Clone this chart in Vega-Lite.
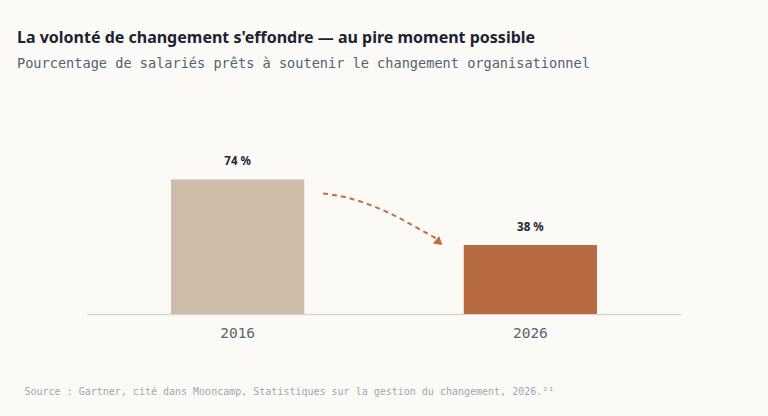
{
  "$schema": "https://vega.github.io/schema/vega-lite/v6.json",
  "width": 594,
  "height": 200,
  "autosize": "none",
  "padding": {"left": 87, "top": 114, "right": 87, "bottom": 102},
  "background": "#fbfaf6",
  "title": {
    "text": "La volonté de changement s'effondre — au pire moment possible",
    "subtitle": "Pourcentage de salariés prêts à soutenir le changement organisationnel",
    "anchor": "start",
    "frame": "group",
    "dx": -70,
    "offset": 43,
    "font": "Noto Sans",
    "fontSize": 16,
    "fontWeight": "bold",
    "color": "#1b2333",
    "subtitleFont": "DejaVu Sans Mono",
    "subtitleFontSize": 13.6,
    "subtitleColor": "#59606b",
    "subtitlePadding": 11
  },
  "config": {"view": {"stroke": null}},
  "layer": [
    {
      "data": {
        "values": [
          {"year": "2016", "value": 74, "label": "74 %"},
          {"year": "2026", "value": 38, "label": "38 %"}
        ]
      },
      "encoding": {
        "x": {
          "field": "year",
          "type": "nominal",
          "scale": {"paddingInner": 0.545, "paddingOuter": 0.287},
          "axis": {
            "labelAngle": 0,
            "labelFont": "DejaVu Sans Mono",
            "labelFontSize": 14.5,
            "labelColor": "#5d646e",
            "labelPadding": 12,
            "ticks": false,
            "domainColor": "#dcd7ce",
            "domainWidth": 1.5,
            "title": "Source : Gartner, cité dans Mooncamp, Statistiques sur la gestion du changement, 2026.²¹",
            "titleFont": "DejaVu Sans Mono",
            "titleFontSize": 10,
            "titleFontWeight": "normal",
            "titleColor": "#a3a6aa",
            "titleAnchor": "start",
            "titleAlign": "left",
            "titleBaseline": "alphabetic",
            "titleX": -63,
            "titleY": 80
          }
        },
        "y": {
          "field": "value",
          "type": "quantitative",
          "scale": {"domain": [0, 110]},
          "axis": null
        }
      },
      "layer": [
        {
          "mark": {"type": "bar"},
          "encoding": {
            "color": {
              "field": "year",
              "type": "nominal",
              "scale": {"range": ["#cdbcaa", "#b86b40"]},
              "legend": null
            }
          }
        },
        {
          "mark": {
            "type": "text",
            "dy": -17,
            "font": "Noto Sans",
            "fontSize": 11.5,
            "fontWeight": "bold",
            "color": "#1f2530"
          },
          "encoding": {"text": {"field": "label"}}
        }
      ]
    },
    {
      "data": {
        "values": [
          {"px": 0.795, "py": 66.3},
          {"px": 0.869, "py": 64.3},
          {"px": 0.953, "py": 60.0},
          {"px": 1.037, "py": 54.0},
          {"px": 1.121, "py": 46.5},
          {"px": 1.18, "py": 41.2}
        ]
      },
      "mark": {
        "type": "line",
        "interpolate": "monotone",
        "color": "#c0703f",
        "strokeWidth": 2,
        "strokeDash": [5, 4]
      },
      "encoding": {
        "x": {"field": "px", "type": "quantitative", "scale": {"domain": [0, 2]}, "axis": null},
        "y": {"field": "py", "type": "quantitative"}
      }
    },
    {
      "data": {"values": [{"px": 1.186, "py": 39.4}]},
      "mark": {
        "type": "point",
        "shape": "triangle-right",
        "angle": 40,
        "size": 95,
        "filled": true,
        "opacity": 1,
        "color": "#c0703f"
      },
      "encoding": {
        "x": {"field": "px", "type": "quantitative", "scale": {"domain": [0, 2]}, "axis": null},
        "y": {"field": "py", "type": "quantitative"}
      }
    }
  ],
  "resolve": {"scale": {"x": "independent"}}
}
